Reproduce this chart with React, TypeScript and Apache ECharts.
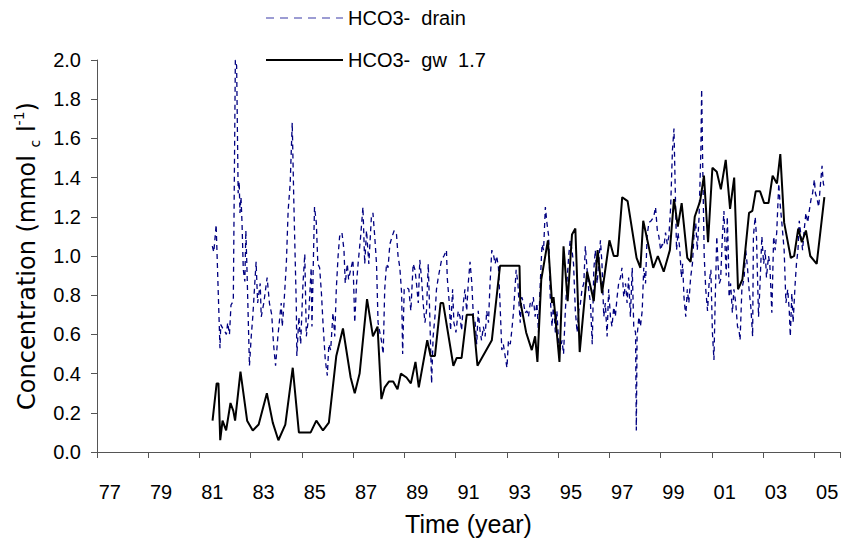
import React, { useEffect, useRef } from 'react';
import * as echarts from 'echarts';

// Category tick labels (one category per year, 1977 .. 2005)
const yearLabels = [
  '77', '78', '79', '80', '81', '82', '83', '84', '85', '86', '87', '88', '89', '90', '91',
  '92', '93', '94', '95', '96', '97', '98', '99', '00', '01', '02', '03', '04', '05',
];

// HCO3- drain (dashed blue)
const drainTime = [
  1981.50, 1981.56, 1981.65, 1981.80, 1981.83, 1981.91, 1981.97, 1982.05, 1982.10, 1982.17,
  1982.23, 1982.32, 1982.40, 1982.45, 1982.51, 1982.55, 1982.58, 1982.62, 1982.66, 1982.71,
  1982.77, 1982.81, 1982.85, 1982.95, 1983.02, 1983.08, 1983.14, 1983.21, 1983.27, 1983.37,
  1983.41, 1983.51, 1983.64, 1983.73, 1983.82, 1983.89, 1983.97, 1984.06, 1984.19, 1984.23,
  1984.29, 1984.39, 1984.46, 1984.54, 1984.62, 1984.68, 1984.78, 1984.80, 1984.88, 1984.95,
  1985.04, 1985.11, 1985.17, 1985.26, 1985.36, 1985.39, 1985.49, 1985.56, 1985.62, 1985.69,
  1985.76, 1985.82, 1985.91, 1985.99, 1986.05, 1986.12, 1986.21, 1986.28, 1986.34, 1986.41,
  1986.47, 1986.56, 1986.64, 1986.69, 1986.77, 1986.82, 1986.90, 1986.99, 1987.06, 1987.13,
  1987.19, 1987.29, 1987.38, 1987.45, 1987.52, 1987.61, 1987.71, 1987.77, 1987.84, 1987.91,
  1987.97, 1988.04, 1988.10, 1988.17, 1988.23, 1988.30, 1988.36, 1988.43, 1988.52, 1988.60,
  1988.69, 1988.75, 1988.82, 1988.89, 1988.93, 1988.99, 1989.08, 1989.17, 1989.25, 1989.34,
  1989.41, 1989.47, 1989.54, 1989.60, 1989.67, 1989.73, 1989.80, 1989.86, 1989.93, 1989.99,
  1990.06, 1990.12, 1990.19, 1990.25, 1990.32, 1990.39, 1990.45, 1990.54, 1990.64, 1990.67,
  1990.75, 1990.80, 1990.88, 1990.93, 1991.01, 1991.10, 1991.17, 1991.23, 1991.30, 1991.36,
  1991.43, 1991.49, 1991.56, 1991.63, 1991.69, 1991.76, 1991.82, 1991.88, 1991.95, 1992.01,
  1992.08, 1992.15, 1992.21, 1992.28, 1992.34, 1992.41, 1992.47, 1992.54, 1992.60, 1992.67,
  1992.73, 1992.80, 1992.86, 1992.93, 1993.00, 1993.06, 1993.13, 1993.19, 1993.26, 1993.36,
  1993.43, 1993.47, 1993.52, 1993.58, 1993.65, 1993.71, 1993.78, 1993.84, 1993.91, 1993.97,
  1994.03, 1994.10, 1994.17, 1994.23, 1994.30, 1994.37, 1994.43, 1994.50, 1994.56, 1994.63,
  1994.69, 1994.76, 1994.82, 1994.89, 1994.95, 1995.02, 1995.08, 1995.15, 1995.21, 1995.28,
  1995.34, 1995.41, 1995.47, 1995.54, 1995.60, 1995.67, 1995.74, 1995.80, 1995.87, 1995.93,
  1996.00, 1996.06, 1996.13, 1996.19, 1996.26, 1996.33, 1996.39, 1996.45, 1996.52, 1996.65,
  1996.71, 1996.78, 1996.84, 1996.91, 1996.97, 1997.04, 1997.10, 1997.17, 1997.23, 1997.30,
  1997.36, 1997.43, 1997.49, 1997.56, 1997.63, 1997.69, 1997.75, 1997.82, 1997.89, 1997.95,
  1998.02, 1998.05, 1998.08, 1998.15, 1998.21, 1998.28, 1998.34, 1998.41, 1998.47, 1998.54,
  1998.63, 1998.73, 1998.80, 1998.87, 1998.93, 1999.00, 1999.06, 1999.13, 1999.19, 1999.26,
  1999.32, 1999.39, 1999.46, 1999.52, 1999.56, 1999.62, 1999.68, 1999.75, 1999.81, 1999.86,
  1999.91, 1999.98, 2000.04, 2000.10, 2000.17, 2000.24, 2000.30, 2000.37, 2000.43, 2000.50,
  2000.57, 2000.60, 2000.64, 2000.70, 2000.76, 2000.83, 2000.89, 2000.96, 2001.02, 2001.08,
  2001.12, 2001.19, 2001.24, 2001.29, 2001.34, 2001.41, 2001.47, 2001.52, 2001.56, 2001.60,
  2001.64, 2001.67, 2001.73, 2001.80, 2001.86, 2001.93, 2002.00, 2002.06, 2002.10, 2002.17,
  2002.26, 2002.32, 2002.39, 2002.45, 2002.52, 2002.59, 2002.62, 2002.69, 2002.74, 2002.82,
  2002.87, 2002.95, 2003.02, 2003.08, 2003.13, 2003.21, 2003.26, 2003.34, 2003.41, 2003.47,
  2003.53, 2003.61, 2003.66, 2003.73, 2003.82, 2003.89, 2003.96, 2004.02, 2004.06, 2004.12,
  2004.17, 2004.25, 2004.30, 2004.36, 2004.41, 2004.48, 2004.54, 2004.60, 2004.67, 2004.74,
  2004.80, 2004.87, 2004.93, 2005.00, 2005.04, 2005.09, 2005.17, 2005.22, 2005.30, 2005.35,
  2005.39,
];
const drainConc = [
  1.05, 1.02, 1.16, 0.53, 0.65, 0.63, 0.62, 0.60, 0.66, 0.60,
  0.75, 0.77, 2.00, 1.97, 1.32, 1.38, 1.22, 1.30, 1.17, 0.93,
  0.87, 1.13, 0.95, 0.44, 0.59, 0.69, 0.82, 0.97, 0.76, 0.86,
  0.69, 0.76, 0.89, 0.76, 0.70, 0.55, 0.44, 0.59, 0.76, 0.64,
  0.74, 0.96, 1.23, 1.37, 1.68, 1.29, 0.74, 0.49, 0.69, 0.55,
  0.86, 1.01, 0.59, 0.69, 0.94, 0.64, 1.25, 1.17, 0.96, 0.94,
  0.81, 0.66, 0.47, 0.39, 0.55, 0.52, 0.71, 0.59, 0.83, 1.00,
  1.10, 1.12, 1.03, 0.86, 0.96, 0.88, 0.93, 0.98, 0.66, 0.86,
  0.96, 1.10, 1.25, 0.96, 1.13, 0.96, 1.20, 1.22, 1.10, 0.96,
  0.66, 0.61, 0.57, 0.50, 0.83, 0.96, 0.94, 1.06, 1.10, 1.13,
  1.11, 1.00, 0.94, 0.81, 0.50, 0.83, 0.84, 0.83, 0.72, 0.96,
  0.93, 0.86, 0.76, 0.98, 0.88, 0.76, 0.66, 0.72, 0.96, 0.69,
  0.35, 0.59, 0.69, 0.83, 0.89, 0.94, 0.98, 1.00, 1.03, 0.89,
  0.76, 0.62, 0.83, 0.66, 0.61, 0.72, 0.69, 0.62, 0.76, 0.83,
  0.72, 0.86, 0.97, 0.86, 0.69, 0.66, 0.55, 0.72, 0.62, 0.57,
  0.64, 0.59, 0.72, 0.66, 0.86, 1.03, 1.01, 0.96, 1.00, 0.94,
  0.76, 0.52, 0.55, 0.49, 0.43, 0.57, 0.55, 0.62, 0.72, 0.93,
  0.86, 0.76, 0.66, 0.79, 0.76, 0.71, 0.72, 0.69, 0.76, 0.74,
  0.79, 0.69, 0.76, 0.61, 0.86, 1.06, 1.03, 1.25, 1.17, 1.10,
  0.79, 0.64, 0.76, 0.61, 0.72, 0.55, 0.52, 0.57, 0.50, 0.72,
  0.86, 1.00, 1.08, 1.03, 0.96, 0.72, 0.61, 0.72, 0.76, 0.83,
  0.86, 1.05, 0.93, 0.83, 0.76, 0.55, 0.93, 1.03, 0.86, 1.08,
  0.96, 0.69, 0.76, 0.59, 0.83, 0.69, 0.64, 0.74, 0.69, 0.79,
  0.86, 0.89, 0.94, 0.79, 0.86, 0.76, 0.89, 0.69, 0.94, 0.64,
  0.61, 0.11, 0.59, 0.69, 0.64, 0.72, 0.94, 0.86, 1.10, 1.17,
  1.18, 1.20, 1.25, 1.13, 1.10, 1.03, 1.06, 1.05, 1.12, 1.06,
  1.10, 1.25, 1.54, 1.65, 1.40, 1.03, 1.12, 1.03, 0.89, 0.96,
  0.79, 0.69, 0.83, 0.76, 0.89, 0.96, 1.10, 1.17, 1.03, 1.20,
  1.54, 1.85, 1.48, 1.00, 0.83, 0.72, 0.86, 0.93, 0.61, 0.47,
  0.72, 1.10, 0.96, 0.86, 0.88, 1.10, 1.23, 1.03, 0.90, 1.20,
  1.03, 0.79, 0.86, 0.71, 0.83, 0.76, 0.64, 0.62, 0.57, 0.83,
  0.89, 1.03, 0.94, 0.83, 0.74, 0.59, 1.10, 1.20, 1.10, 0.69,
  0.83, 1.10, 0.96, 1.03, 0.89, 1.00, 0.96, 0.71, 1.10, 1.03,
  1.12, 1.37, 1.27, 1.17, 1.03, 0.76, 0.83, 0.72, 0.59, 0.81,
  0.66, 0.86, 0.96, 1.03, 1.18, 1.10, 1.03, 1.13, 1.22, 1.17,
  1.23, 1.29, 1.32, 1.39, 1.32, 1.30, 1.25, 1.34, 1.46, 1.37,
  1.35,
];

// HCO3- gw 1.7 (solid black)
const gwTime = [
  1981.51, 1981.67, 1981.74, 1981.81, 1981.90, 1982.04, 1982.21, 1982.32, 1982.39, 1982.60,
  1982.86, 1983.08, 1983.31, 1983.63, 1983.86, 1984.08, 1984.35, 1984.64, 1984.88, 1985.34,
  1985.56, 1985.82, 1986.05, 1986.34, 1986.60, 1986.90, 1987.06, 1987.25, 1987.54, 1987.77,
  1987.95, 1988.10, 1988.23, 1988.40, 1988.56, 1988.73, 1988.86, 1989.08, 1989.25, 1989.43,
  1989.56, 1989.89, 1990.02, 1990.19, 1990.41, 1990.51, 1990.91, 1991.04, 1991.23, 1991.43,
  1991.67, 1991.85, 1992.41, 1992.73, 1993.49, 1993.52, 1993.75, 1993.97, 1994.10, 1994.19,
  1994.34, 1994.60, 1994.76, 1994.82, 1995.05, 1995.21, 1995.37, 1995.54, 1995.67, 1995.84,
  1996.13, 1996.39, 1996.54, 1996.71, 1997.00, 1997.17, 1997.32, 1997.50, 1997.71, 1998.06,
  1998.21, 1998.32, 1998.71, 1998.89, 1999.12, 1999.36, 1999.52, 1999.67, 1999.82, 2000.04,
  2000.17, 2000.33, 2000.54, 2000.69, 2000.85, 2001.02, 2001.19, 2001.35, 2001.54, 2001.71,
  2001.87, 2002.02, 2002.19, 2002.45, 2002.58, 2002.71, 2002.88, 2003.04, 2003.21, 2003.37,
  2003.54, 2003.67, 2003.82, 2004.08, 2004.21, 2004.37, 2004.51, 2004.67, 2004.84, 2005.09,
  2005.39,
];
const gwConc = [
  0.16, 0.35, 0.35, 0.06, 0.16, 0.11, 0.25, 0.21, 0.16, 0.41,
  0.16, 0.11, 0.14, 0.30, 0.15, 0.06, 0.14, 0.43, 0.10, 0.10,
  0.16, 0.11, 0.15, 0.49, 0.63, 0.38, 0.30, 0.40, 0.78, 0.59,
  0.64, 0.27, 0.33, 0.36, 0.36, 0.32, 0.40, 0.38, 0.35, 0.46,
  0.33, 0.57, 0.49, 0.49, 0.76, 0.76, 0.44, 0.48, 0.48, 0.70,
  0.70, 0.44, 0.57, 0.95, 0.95, 0.77, 0.61, 0.52, 0.59, 0.46,
  0.88, 1.08, 0.76, 0.79, 0.46, 1.05, 0.77, 1.11, 1.14, 0.51,
  0.92, 0.77, 1.03, 0.81, 1.08, 1.00, 1.00, 1.30, 1.28, 0.99,
  0.94, 1.18, 0.94, 1.00, 0.92, 1.03, 1.29, 1.15, 1.27, 0.99,
  0.97, 1.20, 1.28, 1.41, 1.07, 1.45, 1.43, 1.34, 1.49, 1.24,
  1.40, 0.83, 0.88, 1.22, 1.23, 1.33, 1.33, 1.27, 1.27, 1.41,
  1.37, 1.52, 1.17, 0.99, 1.00, 1.14, 1.07, 1.13, 1.00, 0.96,
  1.30,
];

const yMin = 0;
const yMax = 2;
const yStep = 0.2;

const FONT = '"Liberation Sans", Arial, Helvetica, sans-serif';
const WIDE_FONT = '"DejaVu Sans", "Liberation Sans", Arial, sans-serif';

export default function App() {
  const ref = useRef<HTMLDivElement>(null);

  useEffect(() => {
    if (!ref.current) return;
    const chart = echarts.init(ref.current, undefined, { renderer: 'svg' });
    const drainData = drainTime.map((t, i) => [t, drainConc[i]]);
    const gwData = gwTime.map((t, i) => [t, gwConc[i]]);

    chart.setOption({
      animation: false,
      backgroundColor: '#ffffff',
      textStyle: { fontFamily: FONT, color: '#000' },
      grid: { left: 97, right: 2, top: 60, bottom: 100, containLabel: false },
      legend: {
        orient: 'vertical',
        left: 265,
        top: 8,
        padding: 0,
        itemWidth: 77,
        itemHeight: 20,
        itemGap: 22,
        itemStyle: { opacity: 0 },
        textStyle: { fontSize: 20, color: '#000', fontFamily: FONT },
        data: [
          {
            name: 'HCO3-  drain',
            lineStyle: { color: '#3a3aa8', width: 1.2, type: [8, 6] },
          },
          {
            name: 'HCO3-  gw  1.7',
            lineStyle: { color: '#000000', width: 2 },
          },
        ],
      },
      xAxis: [
        {
          type: 'category',
          data: yearLabels,
          boundaryGap: true,
          axisLine: { show: true, lineStyle: { color: '#555', width: 1 } },
          axisTick: { show: true, interval: 1, length: 6, lineStyle: { color: '#555' } },
          axisLabel: { interval: 1, margin: 30, fontSize: 20, color: '#000', fontFamily: FONT },
          splitLine: { show: false },
          name: 'Time (year)',
          nameLocation: 'middle',
          nameGap: 59,
          nameTextStyle: { fontSize: 25, color: '#000', fontFamily: FONT },
        },
        {
          type: 'value',
          min: 1977,
          max: 2006,
          show: false,
          splitLine: { show: false },
        },
      ],
      yAxis: {
        type: 'value',
        min: yMin,
        max: yMax,
        interval: yStep,
        axisLine: { show: true, lineStyle: { color: '#555', width: 1 } },
        axisTick: { show: true, length: 6, lineStyle: { color: '#555' } },
        axisLabel: {
          margin: 16,
          fontSize: 20,
          color: '#000',
          fontFamily: FONT,
          formatter: (v: number) => v.toFixed(1),
        },
        splitLine: { show: false },
        name: '{n|Concentration (mmol }{sub|c}{n| l}{sup|-1}{n|)}',
        nameLocation: 'middle',
        nameGap: 52,
        nameTextStyle: {
          fontFamily: WIDE_FONT,
          color: '#000',
          rich: {
            n: { fontSize: 24, lineHeight: 30, fontFamily: WIDE_FONT, color: '#000' },
            sub: { fontSize: 14, lineHeight: 30, verticalAlign: 'bottom', fontFamily: WIDE_FONT, color: '#000' },
            sup: { fontSize: 14, lineHeight: 30, verticalAlign: 'top', fontFamily: WIDE_FONT, color: '#000' },
          },
        },
      },
      series: [
        {
          name: 'HCO3-  drain',
          type: 'line',
          xAxisIndex: 1,
          data: drainData,
          symbol: 'none',
          showSymbol: false,
          lineStyle: { color: '#000080', width: 1.3, type: [5, 4] },
          itemStyle: { color: '#000080' },
          z: 2,
        },
        {
          name: 'HCO3-  gw  1.7',
          type: 'line',
          xAxisIndex: 1,
          data: gwData,
          symbol: 'none',
          showSymbol: false,
          lineStyle: { color: '#000000', width: 2 },
          itemStyle: { color: '#000000' },
          z: 3,
        },
      ],
    });

    return () => {
      chart.dispose();
    };
  }, []);

  return (
    <div
      ref={ref}
      style={{ position: 'fixed', left: 0, top: 0, width: 842, height: 552, background: '#fff' }}
    />
  );
}
